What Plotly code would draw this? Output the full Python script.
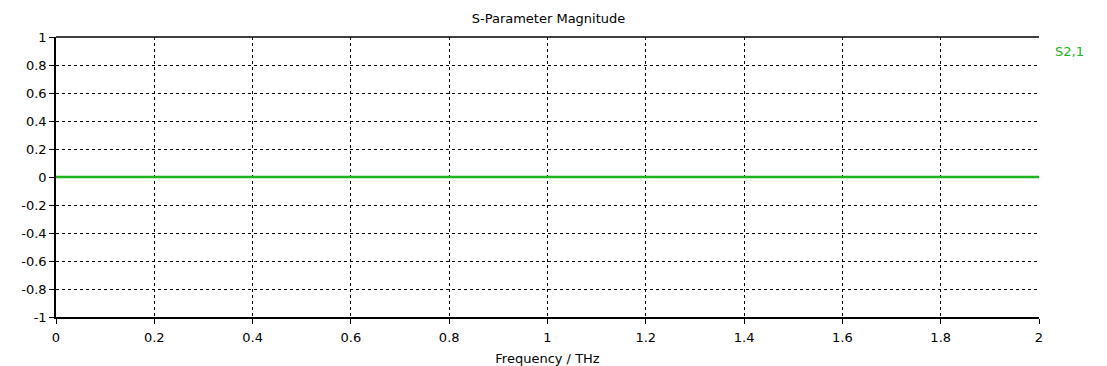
import plotly.graph_objects as go

frequency_thz = [0.0, 0.25, 0.5, 0.75, 1.0, 1.25, 1.5, 1.75, 2.0]
s21_magnitude = [0, 0, 0, 0, 0, 0, 0, 0, 0]
series_name = "S2,1"
x_ticks = [0, 0.2, 0.4, 0.6, 0.8, 1, 1.2, 1.4, 1.6, 1.8, 2]
y_ticks = [1, 0.8, 0.6, 0.4, 0.2, 0, -0.2, -0.4, -0.6, -0.8, -1]

green = "#1db41d"
font = "DejaVu Sans"

fig = go.Figure()
fig.add_trace(go.Scatter(x=frequency_thz, y=s21_magnitude, mode="lines",
                         line=dict(color=green, width=2.5), name=series_name,
                         showlegend=False))

fig.update_layout(
    width=1107, height=366,
    margin=dict(l=56, r=68, t=37, b=49),
    paper_bgcolor="white", plot_bgcolor="white",
    font=dict(family=font, size=13, color="black"),
    title=dict(text="S-Parameter Magnitude", x=0.4955, xanchor="center",
               y=1 - 18/366, yanchor="middle", font=dict(size=13)),
    xaxis=dict(range=[0, 2], tickvals=x_ticks,
               ticktext=[f"{v:g}" for v in x_ticks],
               showgrid=True, gridcolor="black", gridwidth=1, griddash="3px,3px",
               showline=True, linecolor="black", linewidth=1.5,
               ticks="outside", ticklen=5, tickcolor="black", zeroline=False,
               ticklabelstandoff=3, automargin=False,
               title=dict(text="Frequency / THz", standoff=13, font=dict(size=13))),
    yaxis=dict(range=[-1, 1], tickvals=y_ticks,
               ticktext=[f"{v:g}" for v in y_ticks],
               showgrid=True, gridcolor="black", gridwidth=1, griddash="3px,3px",
               showline=True, linecolor="black", linewidth=1.5,
               ticks="outside", ticklen=5, tickcolor="black", zeroline=False,
               automargin=False),
)

# solid top border
fig.add_shape(type="line", xref="paper", yref="paper", x0=0, x1=1, y0=1, y1=1,
              line=dict(color="black", width=1.5))

fig.add_annotation(text=series_name, xref="paper", yref="paper",
                   x=1.014, y=0.947, xanchor="left", yanchor="middle",
                   showarrow=False, font=dict(color=green, size=13))

fig.write_html("out.html", config={"displayModeBar": False},
               post_script="document.body.style.margin='0';document.body.style.overflow='hidden';")
